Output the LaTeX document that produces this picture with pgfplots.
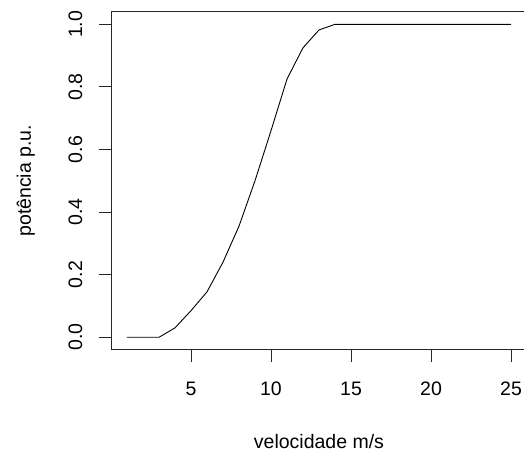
\documentclass[border=0pt]{standalone}
\usepackage{pgfplots}
\pgfplotsset{compat=1.18}
\usepackage{fontspec}
\setmainfont{Liberation Sans}
\begin{document}
\begin{tikzpicture}
\begin{axis}[
  scale only axis,
  width=414.8bp, height=338bp,
  at={(0,0)}, anchor=south west,
  xmin=0.04, xmax=25.96,
  ymin=-0.04, ymax=1.04,
  xtick={5,10,15,20,25},
  ytick={0,0.2,0.4,0.6,0.8,1.0},
  xtick pos=bottom, ytick pos=left,
  tick align=outside,
  major tick length=12.5bp,
  axis line style={line width=0.9bp, black!85},
  every tick/.style={line width=0.9bp, black!85},
  /pgf/number format/assume math mode=true,
  tick label style={font=\fontsize{19.5bp}{23bp}\selectfont},
  xticklabel style={anchor=base, yshift=-33bp},
  yticklabel style={xshift=-17bp, rotate=90, anchor=base,
    /pgf/number format/.cd, fixed, fixed zerofill, precision=1},
  xlabel={velocidade m/s},
  ylabel={potência p.u.},
  every axis x label/.style={at={(rel axis cs:0.5,0)}, yshift=-98.3bp, anchor=base, font=\fontsize{19.5bp}{23bp}\selectfont},
  every axis y label/.style={at={(rel axis cs:0,0.5)}, xshift=-80.6bp, rotate=90, anchor=base, font=\fontsize{19.5bp}{23bp}\selectfont},
]
\addplot[black, line width=0.9bp, mark=none] coordinates {
(1,0) (2,0) (3,0) (4,0.03) (5,0.085) (6,0.145) (7,0.24) (8,0.355) (9,0.5)
(10,0.66) (11,0.825) (12,0.925) (13,0.982) (14,1) (15,1) (16,1) (17,1)
(18,1) (19,1) (20,1) (21,1) (22,1) (23,1) (24,1) (25,1)
};
\end{axis}
\pgfresetboundingbox
\path (-111.6bp,-102.2bp) rectangle (412.4bp,349.8bp);
\end{tikzpicture}
\end{document}
